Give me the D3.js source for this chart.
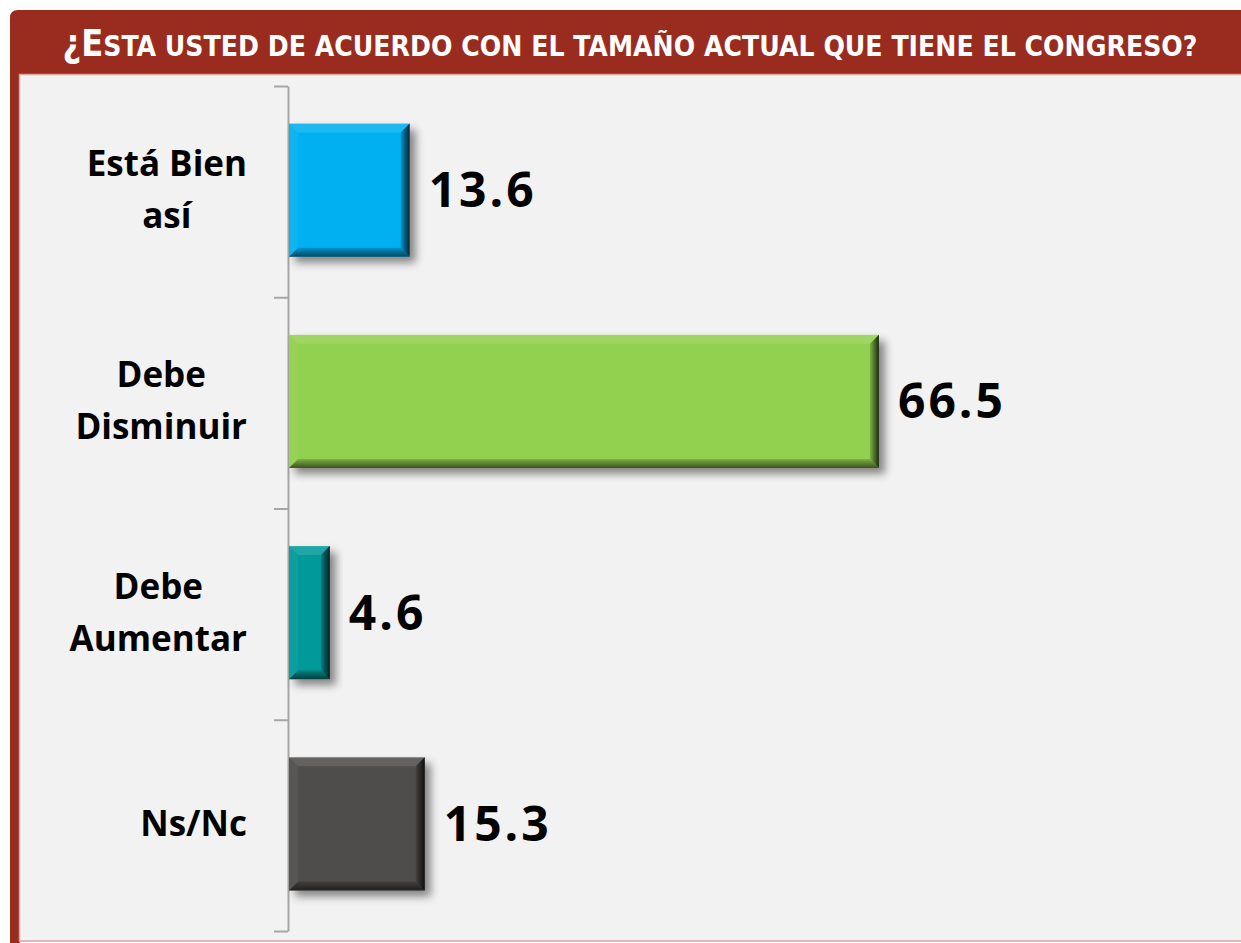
<!DOCTYPE html>
<html>
<head>
<meta charset="utf-8">
<script src="https://cdn.jsdelivr.net/npm/d3@7"></script>
<style>
  body { margin: 0; background: #ffffff; }
  svg { display: block; }
</style>
</head>
<body>
<div id="chart"></div>
<script>
// chart data
var titleText = "¿Esta usted de acuerdo con el tamaño actual que tiene el congreso?";
var categories = ["Está Bien así", "Debe Disminuir", "Debe Aumentar", "Ns/Nc"];
var labelLines = [["Está Bien", "así"], ["Debe", "Disminuir"], ["Debe", "Aumentar"], ["Ns/Nc"]];
var values = [13.6, 66.5, 4.6, 15.3];
var colors = ["#00b0f0", "#92d050", "#009a9a", "#504d4c"];

var svgWidth = 1241;
var svgHeight = 943;

var svg = d3.select("#chart")
    .append("svg")
    .attr("width", svgWidth)
    .attr("height", svgHeight);

var defs = svg.append("defs");

// drop shadow for bars
var shadow = defs.append("filter")
    .attr("id", "shadow")
    .attr("x", "-20%").attr("y", "-20%")
    .attr("width", "150%").attr("height", "150%");
shadow.append("feDropShadow")
    .attr("dx", 6).attr("dy", 6)
    .attr("stdDeviation", 4)
    .attr("flood-color", "#000")
    .attr("flood-opacity", 0.45);

// bevel shading gradients
var gRight = defs.append("linearGradient").attr("id", "bevelRight")
    .attr("x1", 0).attr("y1", 0).attr("x2", 1).attr("y2", 0);
gRight.append("stop").attr("offset", 0).attr("stop-color", "#000").attr("stop-opacity", 0.15);
gRight.append("stop").attr("offset", 1).attr("stop-color", "#000").attr("stop-opacity", 0.8);

var gBottom = defs.append("linearGradient").attr("id", "bevelBottom")
    .attr("x1", 0).attr("y1", 0).attr("x2", 0).attr("y2", 1);
gBottom.append("stop").attr("offset", 0).attr("stop-color", "#000").attr("stop-opacity", 0.15);
gBottom.append("stop").attr("offset", 1).attr("stop-color", "#000").attr("stop-opacity", 0.6);

// frame: header band, left border, plot background
svg.append("path")
    .attr("d", "M10,18 Q10,10 18,10 L1241,10 L1241,75 L20,75 L20,943 L10,943 Z")
    .attr("fill", "#9a2b1f");

svg.append("rect")
    .attr("x", 19.5).attr("y", 74.5)
    .attr("width", 1230).attr("height", 866.5)
    .attr("fill", "#f2f2f2")
    .attr("stroke", "#d9a59e")
    .attr("stroke-width", 1.5);

// title in small caps (first letters bigger)
var title = svg.append("text")
    .attr("x", 630)
    .attr("y", 56)
    .attr("text-anchor", "middle")
    .attr("fill", "#ffffff")
    .style("font-family", "'DejaVu Sans Condensed', 'DejaVu Sans', sans-serif")
    .style("font-weight", 700)
    .attr("textLength", 1135)
    .attr("lengthAdjust", "spacingAndGlyphs");
title.append("tspan").style("font-size", "37px").text(titleText.slice(0, 2).toUpperCase());
title.append("tspan").style("font-size", "29px").text(titleText.slice(2).toUpperCase());

// scales
var x = d3.scaleLinear().domain([0, 70]).range([289, 910]);
var y = d3.scaleBand().domain(categories).range([86, 931]).padding(0);
var inset = y.bandwidth() * 0.178;
var barH = y.bandwidth() * 0.63;

// axis
var tickScale = d3.scaleLinear().domain([0, categories.length]).range(y.range());
var axis = svg.append("g")
    .attr("transform", "translate(288,0)")
    .call(d3.axisLeft(tickScale)
        .tickValues(d3.range(categories.length + 1))
        .tickFormat("")
        .tickSizeInner(14)
        .tickSizeOuter(0));
axis.selectAll("path, line")
    .attr("stroke", "#a6a6a6")
    .attr("stroke-width", 2);

// bars
var bars = svg.selectAll(".bar")
    .data(categories)
    .enter()
    .append("g")
    .attr("class", "bar");

bars.each(function (c, i) {
    var g = d3.select(this);
    var x0 = x(0), x1 = x(values[i]);
    var y0 = y(c) + inset, y1 = y0 + barH;
    var b = Math.min(9, (x1 - x0) / 3);

    g.append("rect")
        .attr("x", x0).attr("y", y0)
        .attr("width", x1 - x0).attr("height", y1 - y0)
        .attr("fill", colors[i])
        .attr("filter", "url(#shadow)");

    var top = [[x0, y0], [x1, y0], [x1 - b, y0 + b], [x0 + b, y0 + b]];
    var left = [[x0, y0], [x0 + b, y0 + b], [x0 + b, y1 - b], [x0, y1]];
    var right = [[x1, y0], [x1, y1], [x1 - b, y1 - b], [x1 - b, y0 + b]];
    var bottom = [[x0, y1], [x0 + b, y1 - b], [x1 - b, y1 - b], [x1, y1]];
    var pts = function (p) { return p.map(function (q) { return q.join(","); }).join(" "); };

    g.append("polygon").attr("points", pts(top)).attr("fill", "#fff").attr("fill-opacity", 0.12);
    g.append("polygon").attr("points", pts(left)).attr("fill", "#fff").attr("fill-opacity", 0.05);
    g.append("polygon").attr("points", pts(right)).attr("fill", "url(#bevelRight)");
    g.append("polygon").attr("points", pts(bottom)).attr("fill", "url(#bevelBottom)");
});

// value labels
svg.selectAll(".value")
    .data(categories)
    .enter()
    .append("text")
    .attr("class", "value")
    .attr("x", function (c, i) { return x(values[i]) + 19; })
    .attr("y", function (c) { return y(c) + inset + barH / 2 + 17; })
    .style("font-family", "'Open Sans', sans-serif")
    .style("font-weight", 700)
    .style("font-size", "48px")
    .style("letter-spacing", "3px")
    .attr("fill", "#000")
    .text(function (c, i) { return values[i].toFixed(1); });

// category labels: block right aligned, lines centered in block
var lineH = 52;
categories.forEach(function (c, i) {
    var lines = labelLines[i];
    var cy = y(c) + inset + barH / 2;
    var t = svg.append("text")
        .style("font-family", "'Open Sans', sans-serif")
        .style("font-weight", 700)
        .style("font-size", "35px")
        .attr("fill", "#000")
        .attr("text-anchor", "middle");
    var spans = t.selectAll("tspan")
        .data(lines)
        .enter()
        .append("tspan")
        .text(function (d) { return d; });
    var maxW = 0;
    spans.each(function () { maxW = Math.max(maxW, this.getComputedTextLength()); });
    var cx = 247 - maxW / 2;
    var firstBase = cy - (lines.length - 1) * lineH / 2 + 12;
    spans.attr("x", cx)
        .attr("y", function (d, j) { return firstBase + j * lineH; });
});
</script>
</body>
</html>
